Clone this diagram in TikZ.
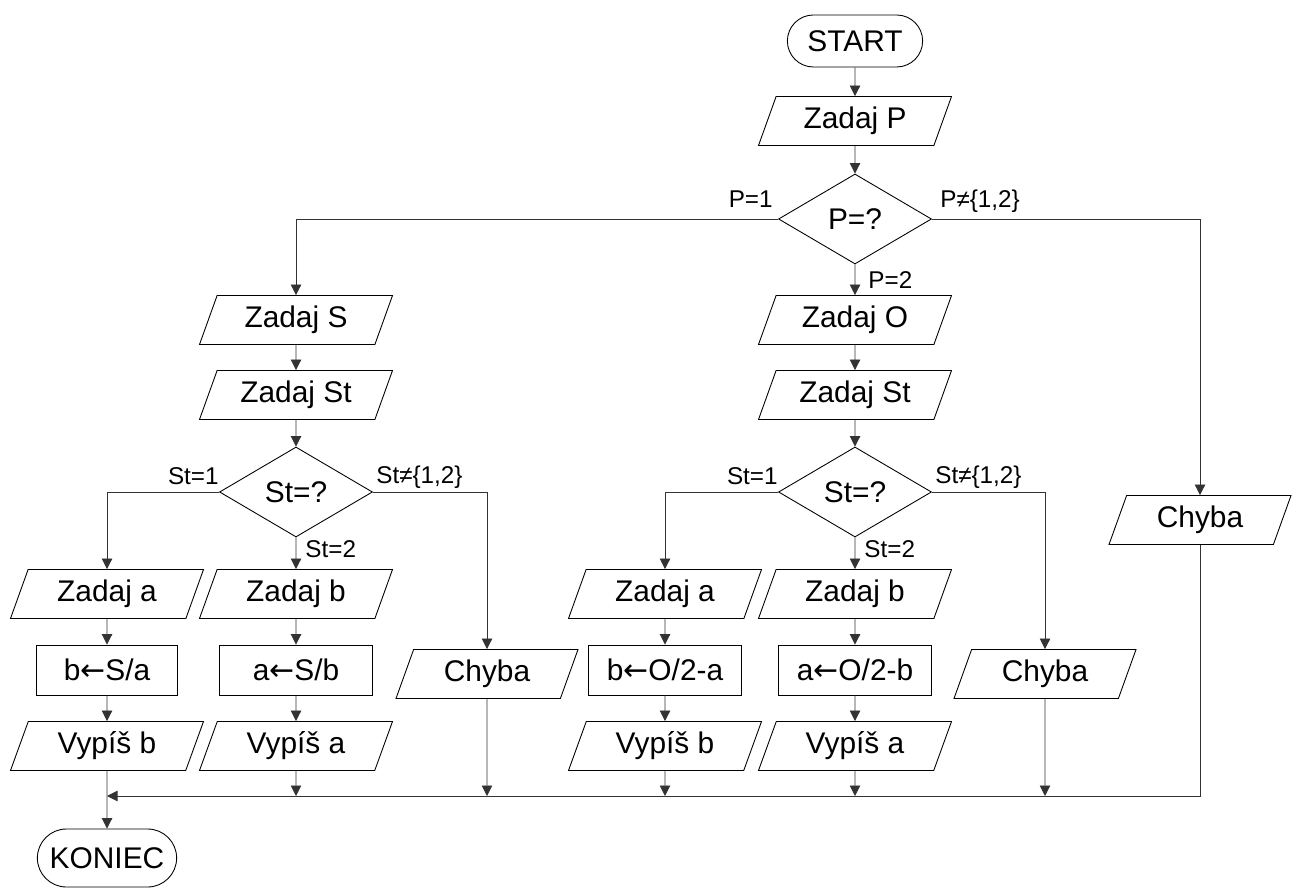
\documentclass[tikz,border=0pt]{standalone}
\usepackage{fontspec}
\setmainfont{Liberation Sans}
\newfontfamily\arrfont{DejaVu Sans}
\usetikzlibrary{arrows.meta,shapes.geometric,shapes.misc}

\newcommand{\asg}{{\arrfont ←}}

\begin{document}
\begin{tikzpicture}[node distance=1.5cm, align=center]
\tikzset{%
  >={Triangle[width=2.1mm,length=2.1mm]},
  % Styles of the flowchart blocks
  term/.style = {rounded rectangle, draw=black, line width=0.5pt,
                 minimum width=2.94cm, minimum height=1.04cm,
                 font=\fontsize{17}{20}\selectfont},
  io/.style = {trapezium, trapezium left angle=66, trapezium right angle=114,
               trapezium stretches body, draw=black, line width=0.5pt,
               minimum width=3.86cm, minimum height=0.98cm,
               font=\fontsize{17}{20}\selectfont},
  proc/.style = {rectangle, draw=black, line width=0.5pt,
                 minimum width=3.06cm, minimum height=1cm,
                 font=\fontsize{17}{20}\selectfont},
  decision/.style = {diamond, draw=black, line width=0.5pt, inner sep=0pt,
                     minimum width=3.06cm, minimum height=1.8cm,
                     font=\fontsize{17}{20}\selectfont},
  lbl/.style = {font=\fontsize{13.8}{16}\selectfont, inner sep=0pt},
  conn/.style = {->, draw=black!80, line width=0.5pt},
}
\useasboundingbox (0,0) rectangle (25.92,-17.82);

  % main column
  \node (start) [term] at (17.1,-0.82) {START};
  \node (zadP) [io, below of=start, yshift=-0.1cm] {Zadaj P};
  \node (dP) [decision, below of=zadP, yshift=-0.46cm] {P=?};

  % P=2 branch
  \node (zadO) [io, below of=dP, yshift=-0.52cm] {Zadaj O};
  \node (zadStM) [io, below of=zadO] {Zadaj St};
  \node (dStM) [decision, below of=zadStM, yshift=-0.44cm] {St=?};
  \node (zadbM) [io, below of=dStM, yshift=-0.54cm] {Zadaj b};
  \node (zadaM) [io, left of=zadbM, xshift=-2.3cm] {Zadaj a};
  \node (abM) [proc, below of=zadbM, yshift=-0.02cm] {a\asg O/2-b};
  \node (baM) [proc, below of=zadaM, yshift=-0.02cm] {b\asg O/2-a};
  \node (vypaM) [io, below of=abM, yshift=-0.02cm] {Vypíš a};
  \node (vypbM) [io, below of=baM, yshift=-0.02cm] {Vypíš b};
  \node (chybaM) [io, right of=abM, xshift=2.3cm, yshift=-0.08cm, minimum width=3.64cm] {Chyba};

  % P=1 branch
  \node (zadS) [io, left of=zadO, xshift=-9.68cm] {Zadaj S};
  \node (zadStL) [io, below of=zadS] {Zadaj St};
  \node (dStL) [decision, below of=zadStL, yshift=-0.44cm] {St=?};
  \node (zadbL) [io, below of=dStL, yshift=-0.54cm] {Zadaj b};
  \node (zadaL) [io, left of=zadbL, xshift=-2.28cm] {Zadaj a};
  \node (abL) [proc, below of=zadbL, yshift=-0.02cm] {a\asg S/b};
  \node (baL) [proc, below of=zadaL, yshift=-0.02cm, minimum width=2.82cm] {b\asg S/a};
  \node (vypaL) [io, below of=abL, yshift=-0.02cm] {Vypíš a};
  \node (vypbL) [io, below of=baL, yshift=-0.02cm] {Vypíš b};
  \node (chybaL) [io, right of=abL, xshift=2.32cm, yshift=-0.08cm, minimum width=3.64cm] {Chyba};

  % P other
  \node (chybaR) [io, right of=dStM, xshift=5.4cm, yshift=-0.56cm, minimum width=3.64cm] {Chyba};

  \node (koniec) [term, below of=vypbL, yshift=-0.74cm, minimum width=3.02cm, minimum height=1.16cm] {KONIEC};
  \coordinate (mrg) at (2.14,-15.92);

  % Connectors
  \draw[conn] (start) -- (zadP);
  \draw[conn] (zadP) -- (dP);
  \draw[conn] (dP.west) node[lbl, anchor=base east, xshift=-0.1cm, yshift=0.22cm] (lP1) {P=1} -| (zadS);
  \draw[conn] (dP.south) node[lbl, anchor=base west, xshift=0.26cm, yshift=-0.48cm] (lP2) {P=2} -- (zadO);
  \draw[conn] (dP.east) node[lbl, anchor=base west, xshift=0.16cm, yshift=0.22cm] (lP3) {P≠\{1,2\}} -| (chybaR);

  \draw[conn] (zadS) -- (zadStL);
  \draw[conn] (zadStL) -- (dStL);
  \draw[conn] (dStL.west) node[lbl, anchor=base east, xshift=0cm, yshift=0.16cm] (lSL1) {St=1} -| (zadaL);
  \draw[conn] (dStL.south) node[lbl, anchor=base west, xshift=0.18cm, yshift=-0.4cm] (lSL2) {St=2} -- (zadbL);
  \draw[conn] (dStL.east) node[lbl, anchor=base west, xshift=0.06cm, yshift=0.18cm] (lSL3) {St≠\{1,2\}} -| (chybaL);
  \draw[conn] (zadaL) -- (baL);
  \draw[conn] (baL) -- (vypbL);
  \draw[conn] (zadbL) -- (abL);
  \draw[conn] (abL) -- (vypaL);

  \draw[conn] (zadO) -- (zadStM);
  \draw[conn] (zadStM) -- (dStM);
  \draw[conn] (dStM.west) node[lbl, anchor=base east, xshift=0cm, yshift=0.16cm] (lSM1) {St=1} -| (zadaM);
  \draw[conn] (dStM.south) node[lbl, anchor=base west, xshift=0.18cm, yshift=-0.4cm] (lSM2) {St=2} -- (zadbM);
  \draw[conn] (dStM.east) node[lbl, anchor=base west, xshift=0.06cm, yshift=0.18cm] (lSM3) {St≠\{1,2\}} -| (chybaM);
  \draw[conn] (zadaM) -- (baM);
  \draw[conn] (baM) -- (vypbM);
  \draw[conn] (zadbM) -- (abM);
  \draw[conn] (abM) -- (vypaM);

  % joining to the end
  \draw[conn] (chybaR) |- (mrg);
  \draw[conn] (vypaL) -- (vypaL |- mrg);
  \draw[conn] (chybaL) -- (chybaL |- mrg);
  \draw[conn] (vypbM) -- (vypbM |- mrg);
  \draw[conn] (vypaM) -- (vypaM |- mrg);
  \draw[conn] (chybaM) -- (chybaM |- mrg);
  \draw[conn] (vypbL) -- (koniec);

\end{tikzpicture}
\end{document}
